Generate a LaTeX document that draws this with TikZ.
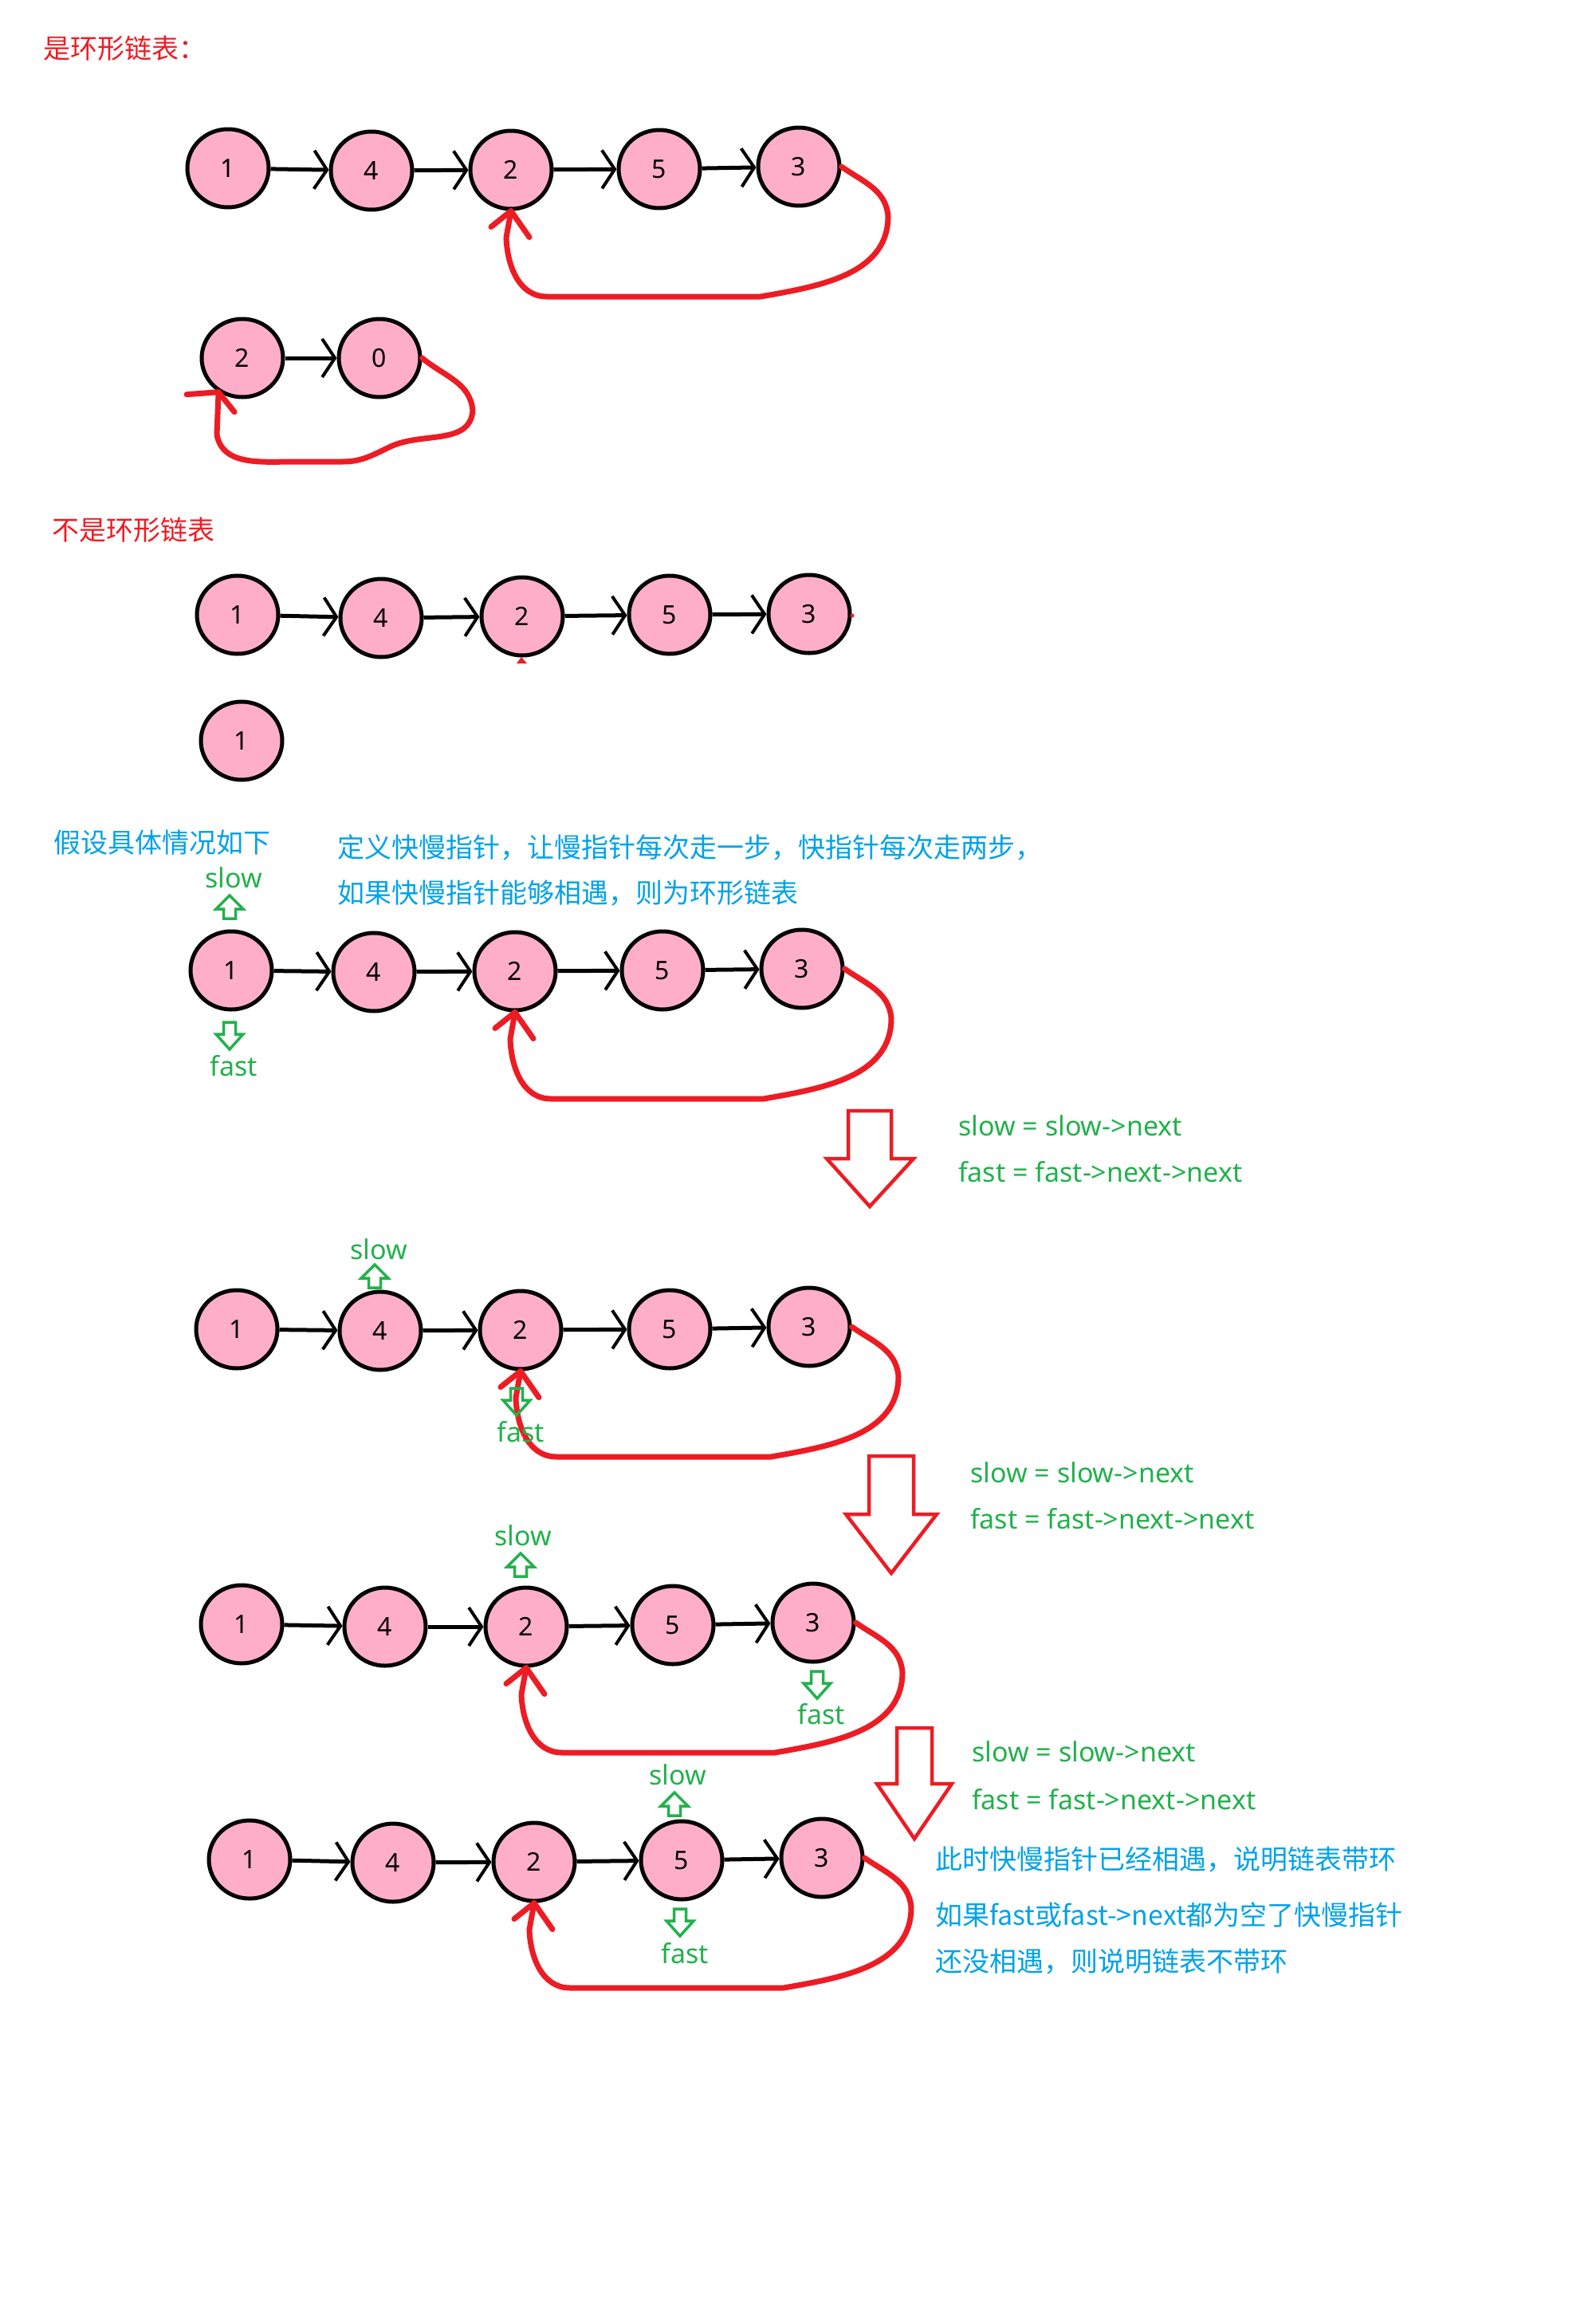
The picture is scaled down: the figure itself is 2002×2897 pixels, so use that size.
\documentclass[tikz,border=0pt]{standalone}
\usepackage{fontspec}
\setmainfont{Noto Sans}
\newfontfamily\cjk{Noto Sans CJK SC}
\usetikzlibrary{arrows.meta,calc,shapes.geometric}
\definecolor{pinkfill}{RGB}{255,174,201}
\definecolor{pred}{RGB}{237,28,36}
\definecolor{pgreen}{RGB}{34,177,76}
\definecolor{pblue}{RGB}{0,162,232}
\tikzset{
  nd/.style={ellipse, draw=black, line width=5pt, fill=pinkfill, minimum width=102pt, minimum height=98pt, inner sep=0pt, font=\fontsize{32}{36}\selectfont},
  link/.style={line width=5pt, -{Straight Barb[length=16pt,width=48pt,line width=4pt]}},
  loopline/.style={draw=pred, line width=7pt, line cap=round, line join=round},
  bigarrow/.style={draw=pred, line width=4.5pt, line join=miter},
  garrow/.style={draw=pgreen, line width=3.5pt, line join=miter},
  redtxt/.style={anchor=west, text=pred, font=\cjk\fontsize{34}{40}\selectfont, inner sep=0pt},
  bluetxt/.style={anchor=west, text=pblue, font=\cjk\fontsize{34}{40}\selectfont, inner sep=0pt},
  greentxt/.style={anchor=west, text=pgreen, font=\fontsize{34}{40}\selectfont, inner sep=0pt},
  ptrlbl/.style={text=pgreen, font=\fontsize{34}{40}\selectfont, inner sep=0pt},
  gup/.pic={\draw[garrow] (0,0) -- (17,17) -- (7.5,17) -- (7.5,29) -- (-7.5,29) -- (-7.5,17) -- (-17,17) -- cycle;},
  gdown/.pic={\draw[garrow] (0,0) -- (17,-19) -- (7.5,-19) -- (7.5,-34) -- (-7.5,-34) -- (-7.5,-19) -- (-17,-19) -- cycle;}
}
\newcommand\myloop[2]{%
  \draw[loopline] (#1.east) to[out=-35,in=95] ($(#1)+(112,62)$) to[out=-90,in=10] ($(#1)+(-48,163)$) -- ($(#2 |- #1)+(45,163)$) to[out=180,in=-88] ($(#2)+(-6,85)$) -- (#2.south);
  \draw[loopline] ($(#2.south)+(-25,20)$) -- (#2.south) -- ($(#2.south)+(23,33)$);
}
\begin{document}
\begin{tikzpicture}[x=1pt,y=-1pt]
\fill[white] (0,0) rectangle (2002,2897);
\useasboundingbox (0,0) rectangle (2002,2897);

% ---------- title 1
\node[redtxt] (t1) at (54,61) {是环形链表：};

% row 1
\node[nd] (a1) at (286,211) {1};
\node[nd] (a4) at (466,214) {4};
\node[nd] (a2) at (641,213) {2};
\node[nd] (a5) at (827,212) {5};
\node[nd] (a3) at (1002,209) {3};
\draw[link] (a1) -- (a4);
\draw[link] (a4) -- (a2);
\draw[link] (a2) -- (a5);
\draw[link] (a5) -- (a3);
\myloop{a3}{a2}

% row 2
\node[nd] (b2) at (304,449) {2};
\node[nd] (b0) at (476,449) {0};
\draw[link] (b2) -- (b0);
\draw[loopline] (b0.east) to[out=-40,in=95] (593,515) to[out=-95,in=25] (490,560) to[out=-155,in=0] (430,579) -- (370,579) to[out=180,in=-80] (272,545) -- (b2.-125);
\draw[loopline] ($(b2.-125)+(-40,3)$) -- (b2.-125) -- ($(b2.-125)+(20,25)$);

% ---------- title 2
\node[redtxt] (t2) at (65,665) {不是环形链表};

% row 3
\node[nd] (c1) at (298,771) {1};
\node[nd] (c4) at (478,775) {4};
\node[nd] (c2) at (655,773) {2};
\node[nd] (c5) at (840,771) {5};
\node[nd] (c3) at (1015,770) {3};
\draw[link] (c1) -- (c4);
\draw[link] (c4) -- (c2);
\draw[link] (c2) -- (c5);
\draw[link] (c5) -- (c3);
\fill[pred] (648,832) -- (654,824) -- (661,832) -- cycle;
\fill[pred] (1069,772) circle (2.5);

\node[nd] (d1) at (303,929) {1};

% ---------- explanation
\node[bluetxt] (t3) at (67,1057) {假设具体情况如下};
\node[bluetxt] (t4) at (423,1063) {定义快慢指针，让慢指针每次走一步，快指针每次走两步，};
\node[bluetxt] (t5) at (423,1120) {如果快慢指针能够相遇，则为环形链表};

% row 4
\node[nd] (e1) at (290,1217) {1};
\node[nd] (e4) at (469,1219) {4};
\node[nd] (e2) at (646,1218) {2};
\node[nd] (e5) at (831,1217) {5};
\node[nd] (e3) at (1006,1215) {3};
\draw[link] (e1) -- (e4);
\draw[link] (e4) -- (e2);
\draw[link] (e2) -- (e5);
\draw[link] (e5) -- (e3);
\myloop{e3}{e2}
\node[ptrlbl] (s4) at (293,1101) {slow};
\pic at (288,1123) {gup};
\pic at (288,1316) {gdown};
\node[ptrlbl] (f4) at (293,1337) {fast};

% step arrow 1
\draw[bigarrow] (1064,1393) -- (1118,1393) -- (1118,1453) -- (1146,1453) -- (1091,1513) -- (1037,1453) -- (1064,1453) -- cycle;
\node[greentxt] (g1) at (1202,1412) {slow = slow->next};
\node[greentxt] (g2) at (1202,1470) {fast = fast->next->next};

% row 5
\node[nd] (f1) at (297,1667) {1};
\node[nd] (f4n) at (477,1669) {4};
\node[nd] (f2) at (653,1668) {2};
\node[nd] (f5) at (840,1667) {5};
\node[nd] (f3) at (1015,1664) {3};
\draw[link] (f1) -- (f4n);
\draw[link] (f4n) -- (f2);
\draw[link] (f2) -- (f5);
\draw[link] (f5) -- (f3);
\myloop{f3}{f2}
\node[ptrlbl] (s5) at (475,1567) {slow};
\pic at (470,1586) {gup};
\pic at (648,1775) {gdown};
\node[ptrlbl] (fl5) at (653,1796) {fast};

% step arrow 2
\draw[bigarrow] (1090,1826) -- (1146,1826) -- (1146,1899) -- (1175,1899) -- (1118,1973) -- (1061,1899) -- (1090,1899) -- cycle;
\node[greentxt] (g3) at (1217,1847) {slow = slow->next};
\node[greentxt] (g4) at (1217,1905) {fast = fast->next->next};

% row 6
\node[nd] (g1n) at (303,2037) {1};
\node[nd] (g4n) at (483,2040) {4};
\node[nd] (g2n) at (660,2040) {2};
\node[nd] (g5n) at (844,2038) {5};
\node[nd] (g3n) at (1020,2035) {3};
\draw[link] (g1n) -- (g4n);
\draw[link] (g4n) -- (g2n);
\draw[link] (g2n) -- (g5n);
\draw[link] (g5n) -- (g3n);
\myloop{g3n}{g2n}
\node[ptrlbl] (s6) at (656,1926) {slow};
\pic at (653,1948) {gup};
\pic at (1025,2130) {gdown};
\node[ptrlbl] (fl6) at (1030,2150) {fast};

% step arrow 3
\draw[bigarrow] (1125,2167) -- (1169,2167) -- (1169,2237) -- (1194,2237) -- (1147,2306) -- (1100,2237) -- (1125,2237) -- cycle;
\node[greentxt] (g5) at (1219,2197) {slow = slow->next};
\node[greentxt] (g6) at (1219,2257) {fast = fast->next->next};

% row 7
\node[nd] (h1) at (313,2332) {1};
\node[nd] (h4) at (493,2336) {4};
\node[nd] (h2) at (670,2335) {2};
\node[nd] (h5) at (855,2333) {5};
\node[nd] (h3) at (1031,2330) {3};
\draw[link] (h1) -- (h4);
\draw[link] (h4) -- (h2);
\draw[link] (h2) -- (h5);
\draw[link] (h5) -- (h3);
\myloop{h3}{h2}
\node[ptrlbl] (s7) at (850,2226) {slow};
\pic at (846,2248) {gup};
\pic at (853,2428) {gdown};
\node[ptrlbl] (fl7) at (859,2450) {fast};

% conclusion
\node[bluetxt] (t6) at (1173,2332) {此时快慢指针已经相遇，说明链表带环};
\node[bluetxt] (t7) at (1173,2402) {如果fast或fast->next都为空了快慢指针};
\node[bluetxt] (t8) at (1173,2460) {还没相遇，则说明链表不带环};
\end{tikzpicture}
\end{document}
